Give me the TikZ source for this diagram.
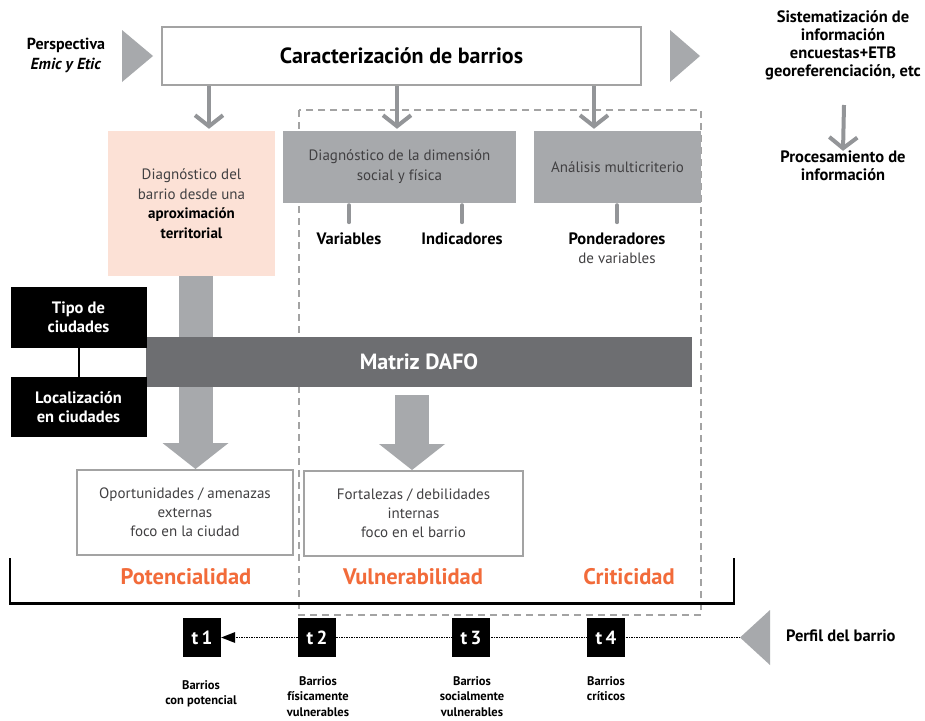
\documentclass[tikz,border=0pt]{standalone}
\usepackage{fontspec}
\setmainfont{PT Sans}
\usetikzlibrary{arrows.meta}
\definecolor{lgray}{HTML}{A7A9AC}
\definecolor{agray}{HTML}{939598}
\definecolor{dgray}{HTML}{6D6E71}
\definecolor{pinkf}{HTML}{FCE1D6}
\definecolor{orng}{HTML}{F26B3A}
\definecolor{txt}{HTML}{414042}
\definecolor{bord}{HTML}{A3A3A3}
\tikzset{
  fs/.style n args={2}{font=\fontsize{#1}{#2}\selectfont},
  fsb/.style n args={2}{font=\fontsize{#1}{#2}\selectfont\bfseries},
  whitebox/.style={draw=bord, line width=2pt, fill=white, inner sep=0pt, align=center, text=txt},
  graybox/.style={fill=lgray, inner sep=0pt, align=center, text=txt, fs={15}{20}},
  blackbox/.style={fill=black, inner sep=0pt, align=center, text=white, fsb={16.5}{19}, minimum width=136pt},
  tbox/.style={fill=black, inner sep=0pt, text=white, fsb={19}{19}, minimum width=38pt, minimum height=39pt},
  lbl/.style={align=center, text=black, fsb={16.5}{18}, inner sep=0pt},
  small/.style={align=center, text=black, fsb={12.5}{15.5}, inner sep=0pt, anchor=north},
  orange/.style={text=orng, fsb={22.5}{24}, inner sep=0pt},
  sarr/.style={draw=agray, line width=4pt, -{Straight Barb[length=11pt,width=28pt]}},
  bigarr/.style={draw=lgray, line width=34pt, -{Triangle[width=66pt,length=26pt,line width=0pt]}},
  tick/.style={draw=agray, line width=4pt, line cap=round},
  dashrect/.style={draw=bord, line width=2pt, dash pattern=on 7pt off 5pt},
  tri/.style={fill=lgray, draw=none}
}
\begin{document}
\begin{tikzpicture}[x=1pt,y=-1pt]
\useasboundingbox[fill=white] (0,0) rectangle (925,720);

% dashed frame
\draw[dashrect] (299,110) rectangle (701,615);

% top row
\node[lbl, fsb={16}{20}] (persp) at (66,55) {Perspectiva\\\textit{Emic y Etic}};
\fill[tri] (122,30) -- (153,56) -- (122,82) -- cycle;
\node[whitebox, minimum width=479pt, minimum height=58pt, text=black, fsb={22}{24}] (cb) at (401.5,56) {Caracterización de barrios};
\fill[tri] (670,30) -- (700,56) -- (670,82) -- cycle;
\node[lbl] (sist) at (843,45) {Sistematización de\\información\\encuestas+ETB\\georeferenciación, etc};
\node[lbl] (proc) at (843,166) {Procesamiento de\\información};
\draw[sarr] (844,105) -- (proc.north);

% second row
\node[fill=pinkf, inner sep=0pt, minimum width=167pt, minimum height=145pt, align=center, text=txt, fs={15}{19.5}] (pink) at (191.5,203.5)
  {Diagnóstico del\\barrio desde una\\\textbf{\textcolor{black}{aproximación}}\\\textbf{\textcolor{black}{territorial}}};
\node[graybox, minimum width=233pt, minimum height=72pt] (dsf) at (399.5,167) {Diagnóstico de la dimensión\\social y física};
\node[graybox, minimum width=167pt, minimum height=72pt] (amc) at (617.5,167) {Análisis multicriterio};

\coordinate (a1) at (209,0);
\coordinate (a2) at (397,0);
\coordinate (a3) at (594,0);
\draw[sarr, shorten >=2pt] (cb.south -| a1) -- (pink.north -| a1);
\draw[sarr, shorten >=2pt] (cb.south -| a2) -- (dsf.north -| a2);
\draw[sarr, shorten >=2pt] (cb.south -| a3) -- (amc.north -| a3);

\node[lbl] (var) at (349,239) {Variables};
\node[lbl] (ind) at (462,239) {Indicadores};
\node[lbl, fsb={16.5}{19}] (pond) at (617,248.5) {Ponderadores\\\mdseries\fontsize{15}{19}\selectfont\textcolor{txt}{de variables}};
\draw[tick] (dsf.south -| var) ++(0,2) -- ++(0,17);
\draw[tick] (dsf.south -| ind) ++(0,2) -- ++(0,17);
\draw[tick] (amc.south -| pond) ++(0,2) -- ++(0,17);

% output boxes
\node[whitebox, minimum width=216pt, minimum height=85pt, fs={15}{19}] (opp) at (185,512.5) {Oportunidades / amenazas\\externas\\foco en la ciudad};
\node[whitebox, minimum width=219pt, minimum height=85pt, fs={15}{19}] (fort) at (413.5,513.5) {Fortalezas / debilidades\\internas\\foco en el barrio};

% big arrows
\coordinate (b1) at (195.5,0);
\coordinate (b2) at (412,0);
\draw[bigarr] (pink.south -| b1) -- (opp.north -| b1);
\node[fill=dgray, inner sep=0pt, minimum width=546pt, minimum height=50pt, text=white, fsb={22}{24}] (dafo) at (419,362) {Matriz DAFO};
\draw[bigarr, shorten <=8pt] (dafo.south -| b2) -- (fort.north -| b2);

% black boxes
\node[blackbox, minimum height=61pt] (tipo) at (78.5,317.5) {Tipo de\\ciudades};
\node[blackbox, minimum height=60pt] (loc) at (78.5,407) {Localización\\en ciudades};
\draw[black, line width=2pt] (tipo) -- (loc);

% orange labels
\node[orange] (pot) at (186,577) {Potencialidad};
\node[orange] (vul) at (413,577) {Vulnerabilidad};
\node[orange] (cri) at (629,577) {Criticidad};

% bracket
\draw[black, line width=2.5pt] (10,558) -- (10,603.5) -- (734,603.5) -- (734,558);

% timeline
\coordinate (tip) at (740,637.5);
\fill[tri] (tip) -- (770,610) -- (770,665) -- cycle;
\node[tbox] (t1) at (202,637.5) {t\,1};
\draw[black, line width=0.9pt, dash pattern=on 1.2pt off 1.3pt, -{Triangle[width=11pt,length=14pt,line width=0pt]}] (tip) -- (t1.east);
\node[tbox] (t2) at (317,637.5) {t\,2};
\node[tbox] (t3) at (471,637.5) {t\,3};
\node[tbox] (t4) at (606,637.5) {t\,4};
\node[lbl, anchor=west] (perfil) at (786,636) {Perfil del barrio};

\node[small] (l1) at (201,680) {Barrios\\con potencial};
\node[small] (l2) at (318,676) {Barrios\\físicamente\\vulnerables};
\node[small] (l3) at (472,676) {Barrios\\socialmente\\vulnerables};
\node[small] (l4) at (606,676) {Barrios\\críticos};
\end{tikzpicture}
\end{document}
